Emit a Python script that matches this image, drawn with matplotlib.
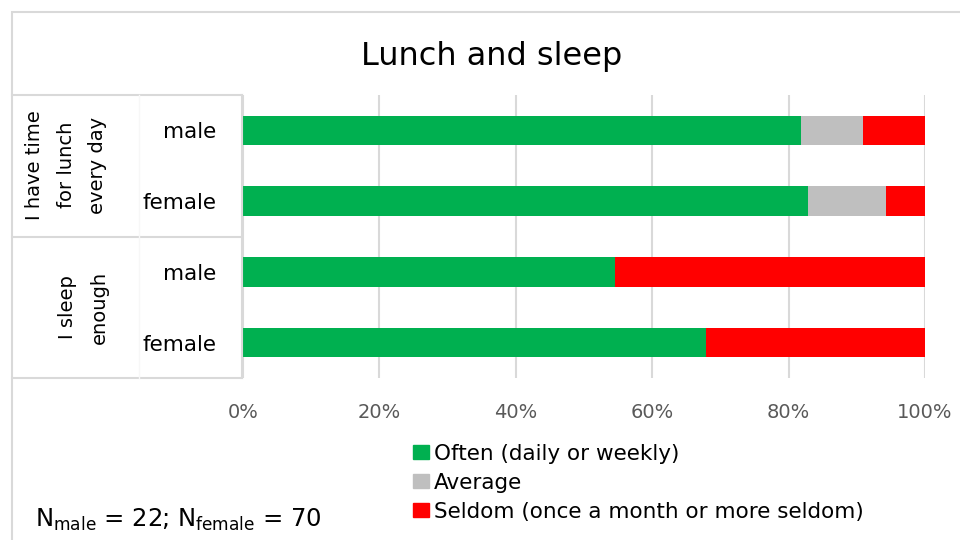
import matplotlib
matplotlib.use("Agg")
import matplotlib.pyplot as plt
from matplotlib.lines import Line2D
from matplotlib.patches import Rectangle
import numpy as np

plt.rcParams['font.family'] = ['DejaVu Sans']
plt.rcParams['mathtext.fontset'] = 'dejavusans'

# ---- data ----
title = "Lunch and sleep"
categories = ["male", "female", "male", "female"]
groups = ["I have time\nfor lunch\nevery day", "I sleep\nenough"]
series_names = ["Often (daily or weekly)", "Average",
                "Seldom (once a month or more seldom)"]
often = [81.8, 82.9, 54.5, 67.9]
average = [9.1, 11.4, 0.0, 0.0]
seldom = [9.1, 5.7, 45.5, 32.1]
colors = ["#00B050", "#BFBFBF", "#FF0000"]
xticks = [0, 20, 40, 60, 80, 100]
xtick_labels = ["0%", "20%", "40%", "60%", "80%", "100%"]
note = r"N$_{\mathregular{male}}$ = 22; N$_{\mathregular{female}}$ = 70"

W, H = 960, 540
fig = plt.figure(figsize=(W / 100, H / 100), dpi=100)

def fx(px):
    return px / W

def fy(py):
    return 1 - py / H

grid_col = "#D9D9D9"

# outer chart frame
fig.add_artist(Rectangle((fx(12), fy(560)), fx(1000) - fx(12), fy(12) - fy(560),
                         transform=fig.transFigure, fill=False,
                         edgecolor=grid_col, lw=1.5, clip_on=False))

ax = fig.add_axes([fx(243), fy(378), fx(925) - fx(243), fy(95) - fy(378)])
y = np.arange(len(categories))
left = np.zeros(len(categories))
for vals, name, c in zip([often, average, seldom], series_names, colors):
    ax.barh(y, vals, left=left, height=0.42, color=c, label=name, zorder=3)
    left = left + np.array(vals)

ax.set_xlim(0, 100)
ax.set_ylim(len(categories) - 0.5, -0.5)
ax.set_xticks(xticks)
ax.set_xticklabels(xtick_labels, fontsize=14, color="#595959")
ax.set_yticks(y)
ax.set_yticklabels(categories, fontsize=15.5, color="black")
ax.tick_params(axis='both', length=0)
ax.tick_params(axis='x', pad=18)
ax.tick_params(axis='y', pad=19)
ax.grid(axis='x', color=grid_col, lw=1.5, zorder=0)
for s in ax.spines.values():
    s.set_visible(False)

# category table lines
lines = [
    ((12, 242), (95, 95)),
    ((12, 242), (237, 237)),
    ((12, 242), (378, 378)),
    ((242, 242), (95, 378)),
]
for xs, ys in lines:
    fig.add_artist(Line2D([fx(xs[0]), fx(xs[1])], [fy(ys[0]), fy(ys[1])],
                          transform=fig.transFigure, color=grid_col, lw=1.5))
fig.add_artist(Line2D([fx(139), fx(139)], [fy(95), fy(378)],
                      transform=fig.transFigure, color="#F7F7F7", lw=1.0))

fig.text(fx(66), fy(165), groups[0], rotation=90, ha='center', va='center',
         multialignment='center', fontsize=14, linespacing=1.85)
fig.text(fx(83), fy(307), groups[1], rotation=90, ha='center', va='center',
         multialignment='center', fontsize=14, linespacing=1.85)

fig.text(fx(492), fy(57), title, ha='center', va='center', fontsize=23)

handles = [Rectangle((0, 0), 1, 1, color=c) for c in colors]
fig.legend(handles, series_names, loc='upper left',
           bbox_to_anchor=(fx(402), fy(433)), frameon=False, fontsize=15.5,
           handlelength=0.75, handleheight=0.65, handletextpad=0.25,
           labelspacing=0.42, borderpad=0)

fig.text(fx(35), fy(520), note, ha='left', va='center', fontsize=17.5)

fig.savefig("out.png", dpi=100)
